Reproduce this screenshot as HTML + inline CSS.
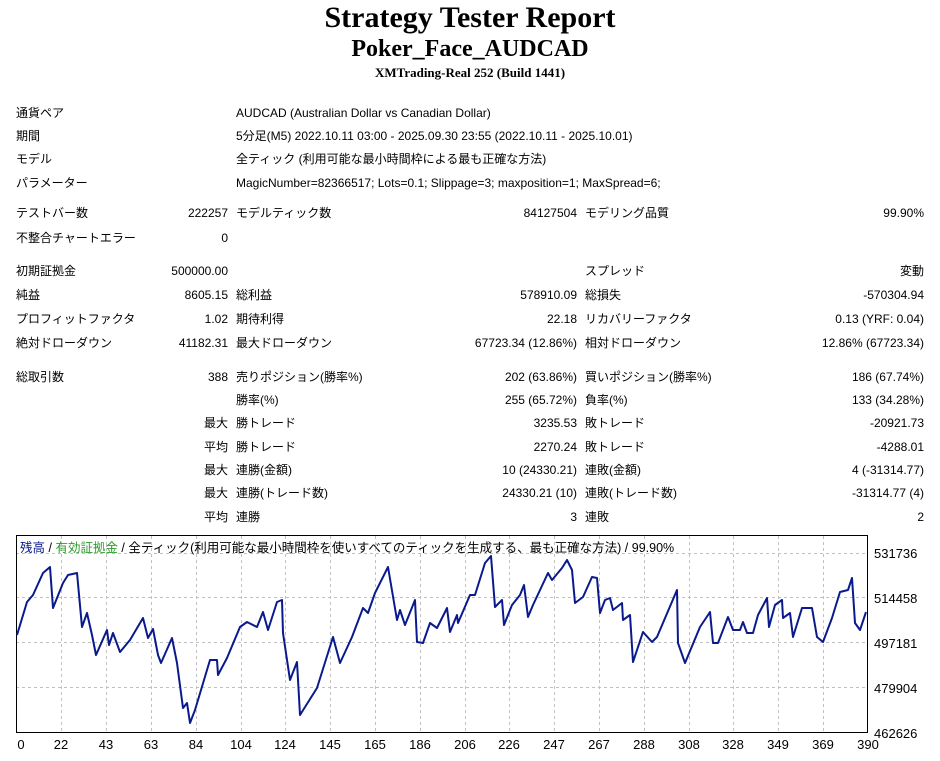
<!DOCTYPE html>
<html><head><meta charset="utf-8"><style>
body{margin:0;width:940px;height:761px;background:#fff;position:relative;overflow:hidden;font-family:"Liberation Sans","Noto Sans CJK JP",sans-serif;font-size:12px;color:#000}
.t{position:absolute;left:0;width:940px;text-align:center;font-family:"Liberation Serif",serif;font-weight:bold}
.a{position:absolute;white-space:nowrap;line-height:16px}
.r{text-align:right}
</style></head><body>
<div class="t" style="top:1px;font-size:30px;line-height:34px">Strategy Tester Report</div>
<div class="t" style="top:35px;font-size:24px;line-height:28px">Poker_Face_AUDCAD</div>
<div class="t" style="top:65px;font-size:13px;line-height:16px">XMTrading-Real 252 (Build 1441)</div>

<div class="a" style="left:16px;top:105px">通貨ペア</div><div class="a" style="left:236px;top:105px">AUDCAD (Australian Dollar vs Canadian Dollar)</div>
<div class="a" style="left:16px;top:128px">期間</div><div class="a" style="left:236px;top:128px">5分足(M5) 2022.10.11 03:00 - 2025.09.30 23:55 (2022.10.11 - 2025.10.01)</div>
<div class="a" style="left:16px;top:151px">モデル</div><div class="a" style="left:236px;top:151px">全ティック (利用可能な最小時間枠による最も正確な方法)</div>
<div class="a" style="left:16px;top:175px">パラメーター</div><div class="a" style="left:236px;top:175px">MagicNumber=82366517; Lots=0.1; Slippage=3; maxposition=1; MaxSpread=6;</div>

<div id="rows"></div>
<script>
var R=[
[205,"テストバー数","222257","モデルティック数","84127504","モデリング品質","99.90%"],
[230,"不整合チャートエラー","0","","","",""],
[263,"初期証拠金","500000.00","","","スプレッド","変動"],
[287,"純益","8605.15","総利益","578910.09","総損失","-570304.94"],
[311,"プロフィットファクタ","1.02","期待利得","22.18","リカバリーファクタ","0.13 (YRF: 0.04)"],
[335,"絶対ドローダウン","41182.31","最大ドローダウン","67723.34 (12.86%)","相対ドローダウン","12.86% (67723.34)"],
[369,"総取引数","388","売りポジション(勝率%)","202 (63.86%)","買いポジション(勝率%)","186 (67.74%)"],
[392,"","","勝率(%)","255 (65.72%)","負率(%)","133 (34.28%)"],
[415,"","最大","勝トレード","3235.53","敗トレード","-20921.73"],
[439,"","平均","勝トレード","2270.24","敗トレード","-4288.01"],
[462,"","最大","連勝(金額)","10 (24330.21)","連敗(金額)","4 (-31314.77)"],
[485,"","最大","連勝(トレード数)","24330.21 (10)","連敗(トレード数)","-31314.77 (4)"],
[509,"","平均","連勝","3","連敗","2"]];
var h="";
R.forEach(function(r){var y=r[0];
h+='<div class="a" style="left:16px;top:'+y+'px">'+r[1]+'</div>';
h+='<div class="a r" style="right:712px;top:'+y+'px">'+r[2]+'</div>';
h+='<div class="a" style="left:236px;top:'+y+'px">'+r[3]+'</div>';
h+='<div class="a r" style="right:363px;top:'+y+'px">'+r[4]+'</div>';
h+='<div class="a" style="left:585px;top:'+y+'px">'+r[5]+'</div>';
h+='<div class="a r" style="right:16px;top:'+y+'px">'+r[6]+'</div>';});
document.getElementById("rows").innerHTML=h;
</script>

<svg style="position:absolute;left:0;top:0" width="940" height="761">
<g stroke="#c0c0c0" stroke-dasharray="3,3" stroke-width="1">
<line x1="16" y1="553.5" x2="867" y2="553.5"/><line x1="16" y1="597.5" x2="867" y2="597.5"/>
<line x1="16" y1="642.5" x2="867" y2="642.5"/><line x1="16" y1="687.5" x2="867" y2="687.5"/>
<g id="vg"></g>
</g>
<rect x="16.5" y="535.5" width="851" height="197" fill="none" stroke="#000"/>
<polyline fill="none" stroke="#0a1a8c" stroke-width="2" stroke-linejoin="round" points="17,635 27,602 33,595 43,573 50,567 53,608 63,583 68,575 77,573 82,627 87,613 92,635 96,655 107,630 109,645 113,633 120,652 130,640 143,618 148,638 153,629 158,655 161,663 172,638 177,663 183,708 187,703 190,723 195,710 210,660 217,660 218,675 227,658 240,627 247,622 257,627 263,612 268,630 277,602 282,600 283,633 290,680 297,662 300,715 317,688 333,637 340,663 352,637 363,608 368,613 375,593 388,567 397,620 400,610 405,625 415,600 417,642 423,643 430,623 437,628 447,608 450,632 457,615 458,623 470,595 475,595 485,563 491,556 495,607 502,600 504,625 512,605 520,595 524,585 528,617 533,605 548,573 552,580 562,568 567,560 572,570 575,603 583,597 592,577 597,578 600,613 605,600 610,598 613,610 622,603 623,620 630,615 633,662 643,632 652,642 657,637 677,590 678,643 685,663 700,627 710,612 713,643 718,643 728,617 733,630 740,630 743,622 747,633 753,633 758,615 767,598 769,627 775,605 782,600 783,618 790,613 793,637 802,608 812,608 817,637 823,642 832,618 840,592 848,590 852,578 855,623 860,630 866,612"/>
<g font-family="Liberation Sans, sans-serif" font-size="13" fill="#000" id="xl"></g>
<g font-family="Liberation Sans, sans-serif" font-size="13" fill="#000">
<text x="874" y="558">531736</text><text x="874" y="603">514458</text><text x="874" y="648">497181</text><text x="874" y="693">479904</text><text x="874" y="738">462626</text>
</g>
<text x="20" y="552" font-family="Liberation Sans, Noto Sans CJK JP, sans-serif" font-size="12.5"><tspan fill="#0a1a8c">残高</tspan> / <tspan fill="#2e9a2e">有効証拠金</tspan> / 全ティック(利用可能な最小時間枠を使いすべてのティックを生成する、最も正確な方法) / 99.90%</text>
</svg>
<script>
var lab=["0","22","43","63","84","104","124","145","165","186","206","226","247","267","288","308","328","349","369","390"];
var vg="",xl="";
for(var i=0;i<lab.length;i++){var x=Math.round(16.5+i*44.8);
if(i>0&&i<19)vg+='<line x1="'+(x+.5)+'" y1="536" x2="'+(x+.5)+'" y2="732"/>';
xl+='<text x="'+(i==0?21:x)+'" y="749" text-anchor="middle">'+lab[i]+'</text>';}
document.getElementById("vg").innerHTML=vg;
document.getElementById("xl").innerHTML=xl;
</script>
</body></html>
